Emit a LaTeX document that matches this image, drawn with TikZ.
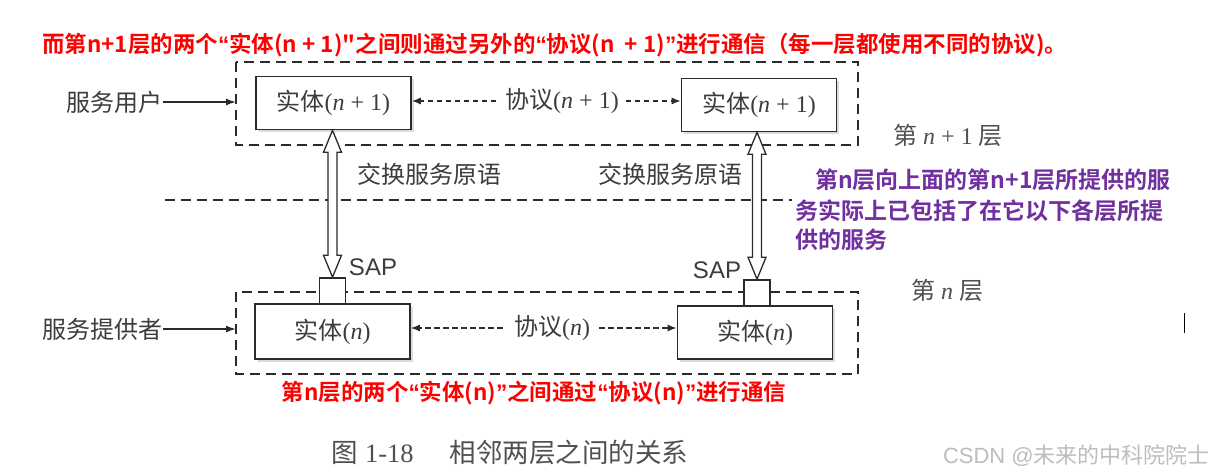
\documentclass[tikz,border=0pt]{standalone}
\usepackage{fontspec}
\setmainfont{Liberation Serif}
\newfontfamily\cjk{Noto Sans CJK SC}
\newfontfamily\cjkbf{Noto Sans CJK SC Bold}
\newfontfamily\wm{Liberation Sans}
\newcommand\oq{{\wm\bfseries “}}
\newcommand\cq{{\wm\bfseries ”}}
\usetikzlibrary{arrows.meta,shadows,calc}
\definecolor{ink}{HTML}{2B2B2B}
\definecolor{txt}{HTML}{3C3C3C}
\definecolor{annred}{HTML}{FF0000}
\definecolor{annpurple}{HTML}{7030A0}
\definecolor{capgray}{HTML}{505050}
\definecolor{wmgray}{HTML}{BDBDBD}
\begin{document}
\begin{tikzpicture}[x=1pt,y=-1pt,
  entity/.style={draw=ink, line width=1.6pt, fill=white, minimum width=155pt, minimum height=53pt, inner sep=0pt,
    text=txt, font=\fontsize{24}{28}\selectfont,
    drop shadow={shadow xshift=2.5pt, shadow yshift=-2.5pt, fill=gray!55}},
  sapbox/.style={draw=ink, line width=1.6pt, fill=white, minimum width=26pt, minimum height=26pt, inner sep=0pt},
  lbl/.style={text=txt, font=\fontsize{24}{28}\selectfont, inner sep=1pt},
  layerlbl/.style={text=capgray, font=\fontsize{24}{28}\selectfont, inner sep=1pt},
  layerline/.style={draw=ink, line width=2.5pt, dash pattern=on 10pt off 6pt},
  protoarrow/.style={draw=ink, line width=1.3pt, dash pattern=on 5.5pt off 3.5pt, -{Latex[length=9pt,width=7pt]}},
  userarrow/.style={draw=ink, line width=1.5pt, -{Latex[length=10pt,width=7pt]}},
  hollow/.style={draw=ink, line width=1.3pt, fill=white, line join=miter},
  annr/.style={text=annred, font=\cjkbf\fontsize{22.5}{27}\selectfont, inner sep=0pt},
  annp/.style={text=annpurple, font=\cjkbf\fontsize{23}{27}\selectfont, inner sep=0pt, anchor=west},
]
\useasboundingbox (0,0) rectangle (1214,474);
\fill[white] (0,0) rectangle (1214,474);

% layer frames
\draw[layerline] (236,62) rectangle (858,145);
\draw[layerline] (236,292) rectangle (858,374);
\draw[layerline] (165,200) -- (792,200);

% entities
\node[entity] (eu1) at (333.5,103) {{\cjk 实体}(\textit{n} + 1)};
\node[entity] (eu2) at (759,105) {{\cjk 实体}(\textit{n} + 1)};
\node[entity, minimum height=55pt] (el1) at (332.5,331.5) {{\cjk 实体}(\textit{n})};
\node[entity] (el2) at (755,332.5) {{\cjk 实体}(\textit{n})};

% SAPs
\node[sapbox] (sapl) at (332.5,291) {};
\node[sapbox] (sapr) at (757,293) {};
\node[lbl] (sapltxt) at (373,267) {\wm SAP};
\node[lbl] (saprtxt) at (717,270) {\wm SAP};

% users / providers
\node[lbl] (user) at (114,102) {\cjk 服务用户};
\node[lbl] (prov) at (102,329) {\cjk 服务提供者};
\coordinate (userin) at (236,102);
\coordinate (provin) at (236,329);
\draw[userarrow] (user.east) -- (userin);
\draw[userarrow] (prov.east) -- (provin);

% protocols
\node[lbl] (p1) at (562,101) {{\cjk 协议}(\textit{n} + 1)};
\node[lbl] (p0) at (552,328) {{\cjk 协议}(\textit{n})};
\draw[protoarrow] (p1.west) ++(-8,0) -- (eu1.east |- p1.west);
\draw[protoarrow] (p1.east) ++(6,0) -- (eu2.west |- p1.east);
\draw[protoarrow] (p0.west) ++(-10,0) -- (el1.east |- p0.west);
\draw[protoarrow] (p0.east) ++(8,0) -- (el2.west |- p0.east);

% primitives
\node[lbl] (priml) at (429,174) {\cjk 交换服务原语};
\node[lbl] (primr) at (670,174) {\cjk 交换服务原语};

% hollow double arrows
\draw[hollow] let \p1=(eu1.south), \p2=(sapl.north) in
  (\x2,\y1) -- ++(9,22) -- ++(-4.5,0) -- ({\x2+4.5pt},{\y2+22pt}) -- ++(4.5,0) -- (\x2,\y2)
  -- ++(-9,-22) -- ++(4.5,0) -- ({\x2-4.5pt},{\y1-22pt}) -- ++(-4.5,0) -- cycle;
\draw[hollow] let \p1=(eu2.south), \p2=(sapr.north) in
  (\x2,\y1) -- ++(9,22) -- ++(-4.5,0) -- ({\x2+4.5pt},{\y2+22pt}) -- ++(4.5,0) -- (\x2,\y2)
  -- ++(-9,-22) -- ++(4.5,0) -- ({\x2-4.5pt},{\y1-22pt}) -- ++(-4.5,0) -- cycle;

% layer labels
\node[layerlbl] (lay1) at (948,135) {{\cjk 第} \textit{n} + 1 {\cjk 层}};
\node[layerlbl] (lay0) at (947,290) {{\cjk 第} \textit{n} {\cjk 层}};

% annotations
\node[annr, anchor=west] (top) at (42,45) {而第n+1层的两个\oq 实体(n + 1)"之间则通过另外的\oq 协议(n\ \ + 1)\cq 进行通信（每一层都使用不同的协议)。};
\node[annr] (bot) at (534,393) {第n层的两个\oq 实体(n)\cq 之间通过\oq 协议(n)\cq 进行通信};
\node[annp] (pa) at (815,180) {第n层向上面的第n+1层所提供的服};
\node[annp] (pb) at (795,211) {务实际上已包括了在它以下各层所提};
\node[annp] (pc) at (795,240) {供的服务};

% caption and watermark
\node[text=capgray, font=\fontsize{26.5}{30}\selectfont] (cap) at (510,452) {{\cjk 图} 1-18\hspace{36pt}{\cjk 相邻两层之间的关系}};
\node[text=wmgray, font=\fontsize{22}{26}\selectfont, anchor=east, inner sep=0pt] (wmk) at (1210,456) {\wm CSDN @{\cjk 未来的中科院院士}};
\draw[black, line width=1pt] (1184,313) -- (1184,333);
\end{tikzpicture}
\end{document}
